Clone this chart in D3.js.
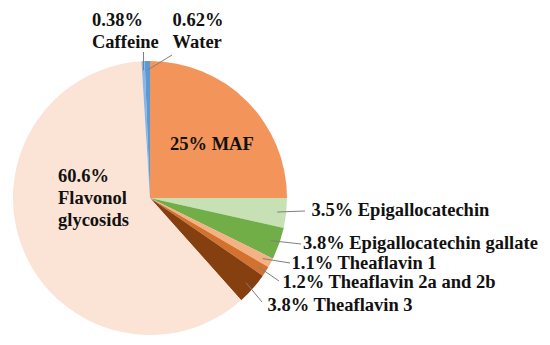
<!DOCTYPE html>
<html>
<head>
<meta charset="utf-8">
<script src="https://cdn.jsdelivr.net/npm/d3@7"></script>
<style>
  body { margin: 0; background: #fff; }
</style>
</head>
<body>
<svg id="chart" width="550" height="345"></svg>
<script>
// composition, clockwise from 12 o'clock
const components = ['MAF', 'Epigallocatechin', 'Epigallocatechin gallate', 'Theaflavin 1',
  'Theaflavin 2a and 2b', 'Theaflavin 3', 'Flavonol glycosids', 'Caffeine', 'Water'];
const shares = [25, 3.5, 3.8, 1.1, 1.2, 3.8, 60.6, 0.38, 0.62];
const shareText = ['25%', '3.5%', '3.8%', '1.1%', '1.2%', '3.8%', '60.6%', '0.38%', '0.62%'];

const colors = ['#f3955b', '#c7e1b5', '#71ae48', '#f4b183', '#d3712f', '#863f0f',
  '#fbe4d6', '#8eb4e3', '#5b9bd5'];

// where each label sits: text start x, baselines, and where its leader line ends
const labelPos = [
  { x: 170, ys: [150] },
  { x: 311.5, ys: [216], end: [305, 211] },
  { x: 303, ys: [249], end: [301, 244] },
  { x: 291.5, ys: [269], end: [290, 263] },
  { x: 282.5, ys: [288], end: [279, 281] },
  { x: 267.5, ys: [311], end: [262, 302] },
  { x: 58, ys: [182, 204, 226] },
  { x: 92, ys: [26, 48], end: [143.5, 52] },
  { x: 172.5, ys: [26, 48], end: [172, 55] }
];

const cx = 150, cy = 198, radius = 137;
const fontFamily = "'Liberation Serif', 'Times New Roman', Times, serif";

const data = components.map((name, i) => ({ name, value: shares[i], i }));

const svg = d3.select('#chart');
const g = svg.append('g').attr('transform', `translate(${cx},${cy})`);

const pie = d3.pie().sort(null).value(d => d.value);
const arcs = pie(data);

const arc = d3.arc().innerRadius(0).outerRadius(radius);
const leaderArc = d3.arc().innerRadius(128).outerRadius(128);

g.selectAll('path.slice')
  .data(arcs)
  .enter()
  .append('path')
  .attr('class', 'slice')
  .attr('d', arc)
  .attr('fill', d => colors[d.data.i]);

// leader lines
g.selectAll('line.leader')
  .data(arcs.filter(d => labelPos[d.data.i].end))
  .enter()
  .append('line')
  .attr('class', 'leader')
  .attr('x1', d => leaderArc.centroid(d)[0])
  .attr('y1', d => leaderArc.centroid(d)[1])
  .attr('x2', d => labelPos[d.data.i].end[0] - cx)
  .attr('y2', d => labelPos[d.data.i].end[1] - cy)
  .attr('stroke', '#7f7f7f')
  .attr('stroke-width', 1);

// labels
function labelLines(d) {
  const name = d.data.name;
  if (name === 'Flavonol glycosids') return [shareText[d.data.i], 'Flavonol', 'glycosids'];
  if (name === 'Caffeine' || name === 'Water') return [shareText[d.data.i], name];
  return [shareText[d.data.i] + ' ' + name];
}

const labels = svg.selectAll('text.label')
  .data(arcs)
  .enter()
  .append('text')
  .attr('class', 'label')
  .style('font-family', fontFamily)
  .style('font-weight', 'bold')
  .style('font-size', '18.5px')
  .attr('fill', '#111');

labels.selectAll('tspan')
  .data(d => labelLines(d).map((t, k) => ({ t, x: labelPos[d.data.i].x, y: labelPos[d.data.i].ys[k] })))
  .enter()
  .append('tspan')
  .attr('x', d => d.x)
  .attr('y', d => d.y)
  .text(d => d.t);
</script>
</body>
</html>
